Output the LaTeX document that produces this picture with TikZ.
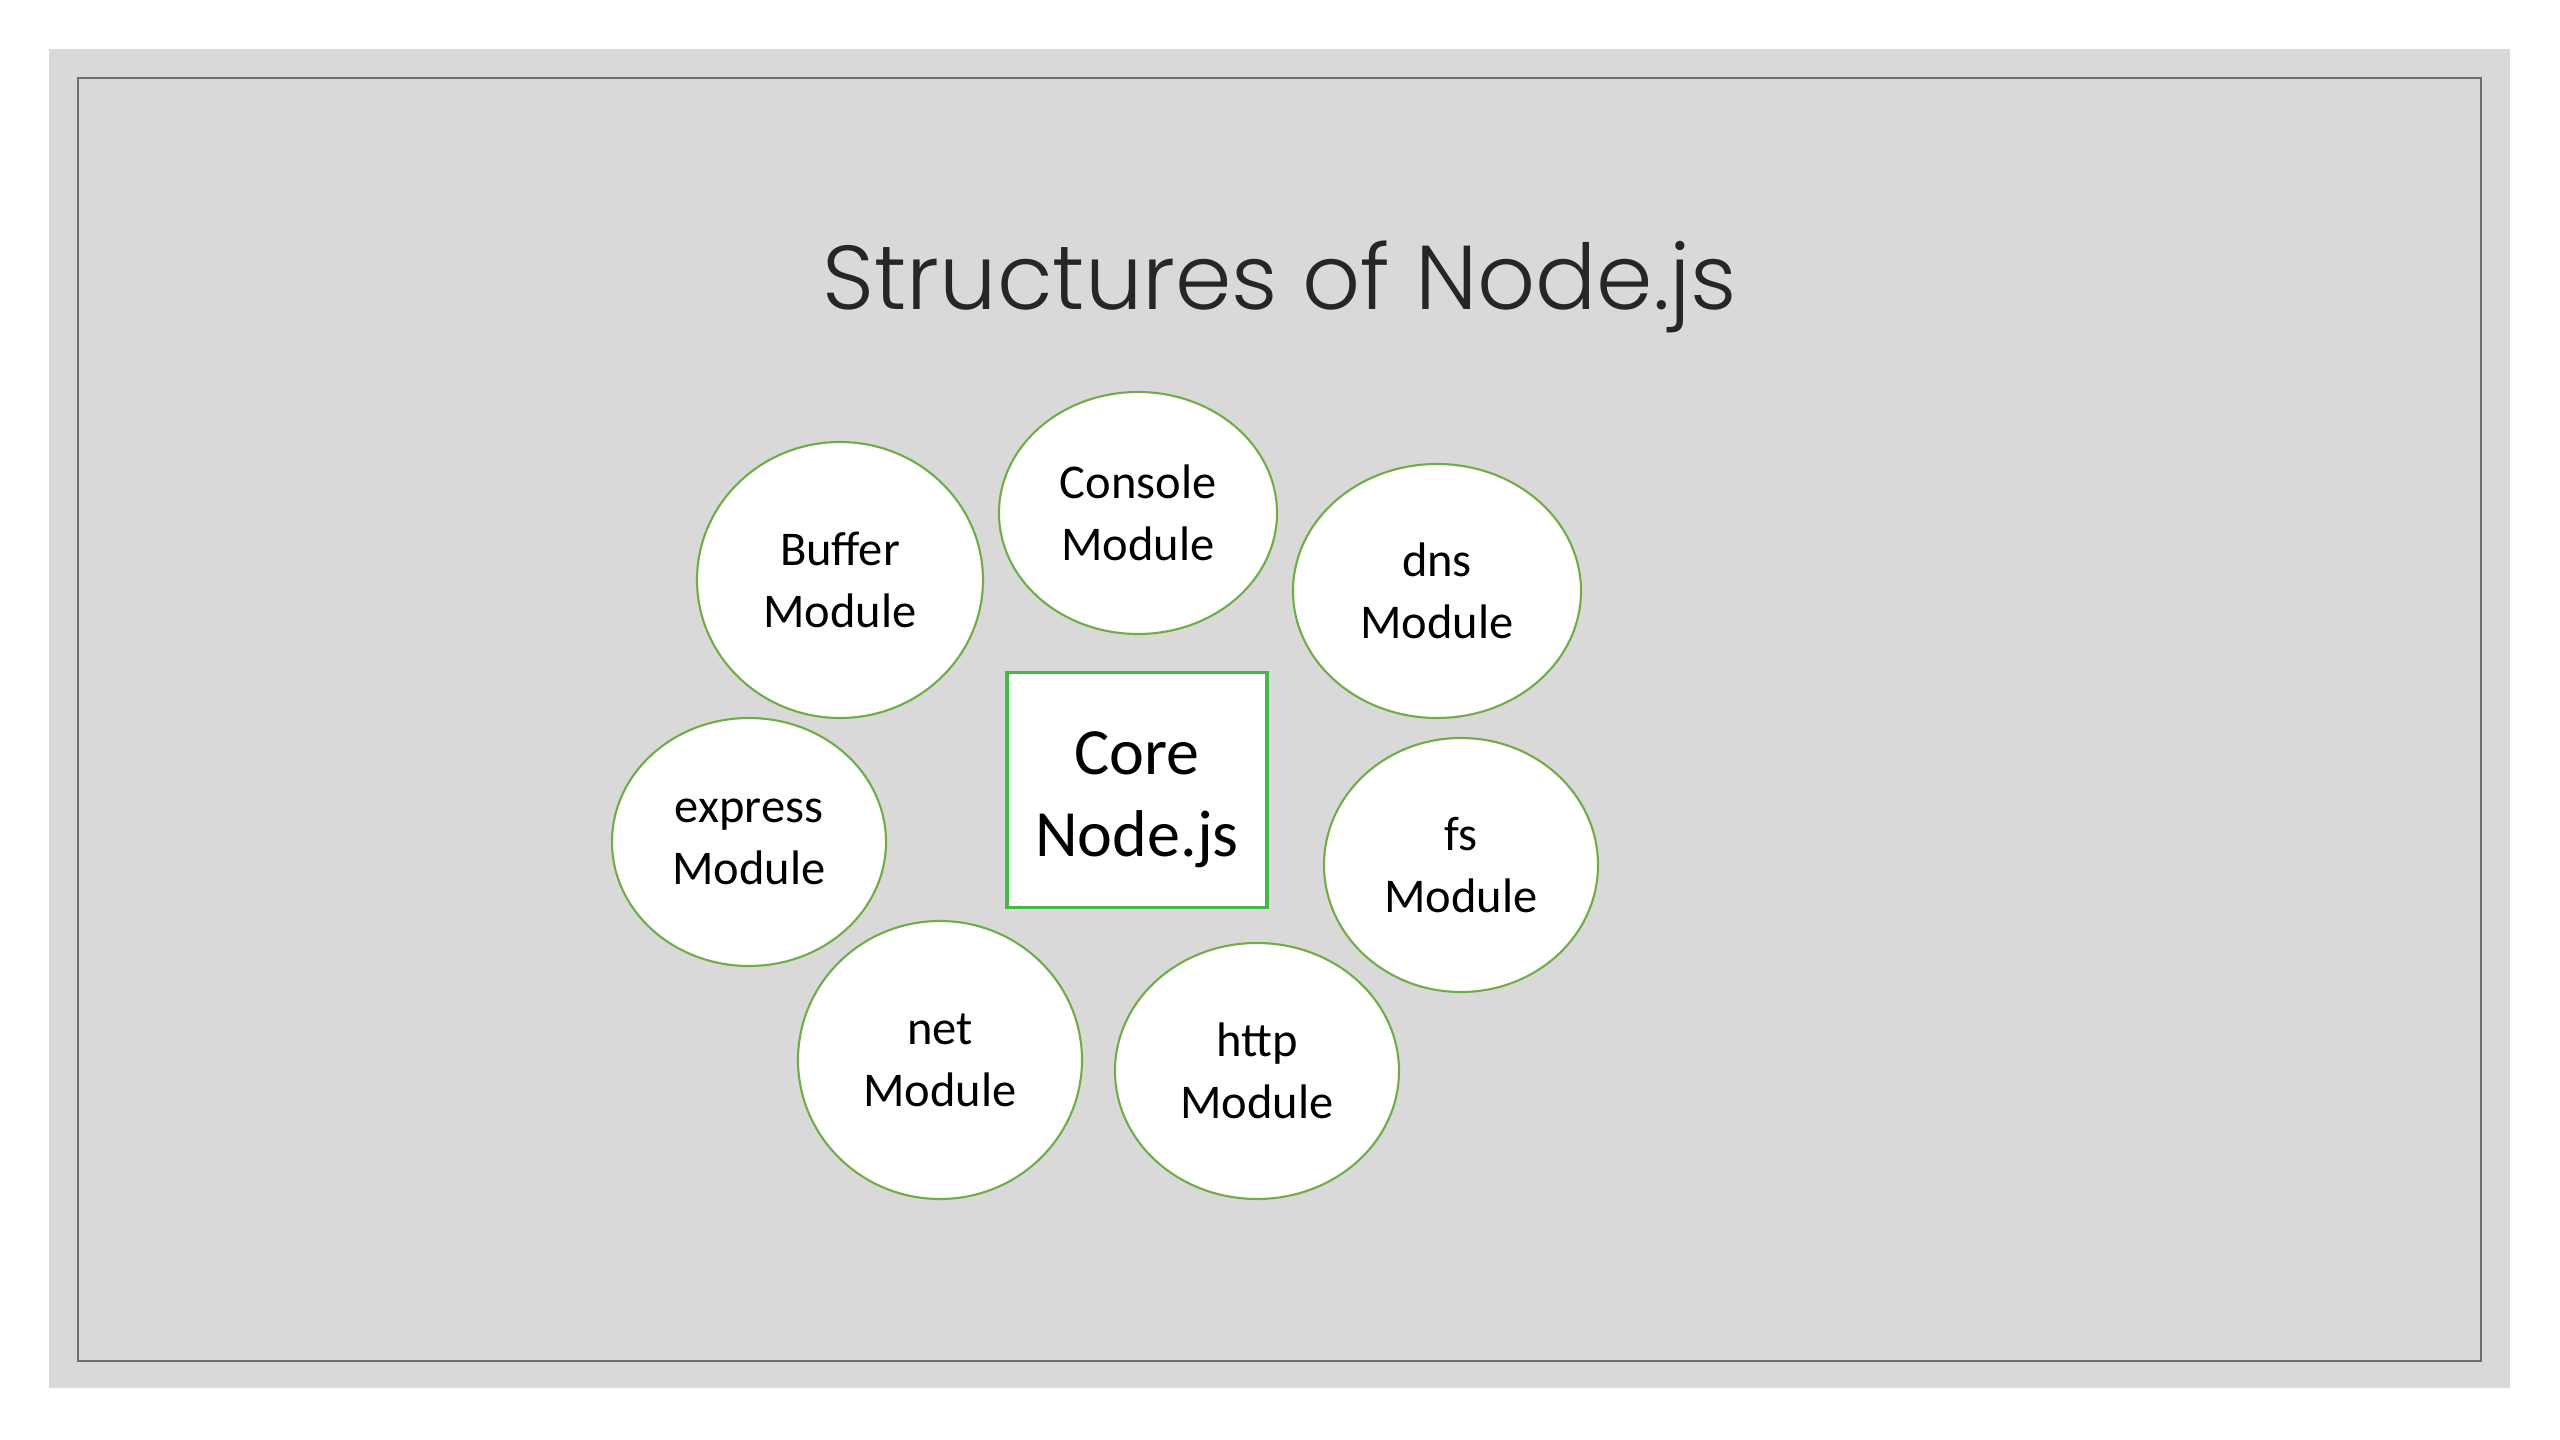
\documentclass[tikz,border=0pt]{standalone}
\usepackage{fontspec}
\setmainfont{Carlito}
\newfontfamily\titlefont{Poppins}[UprightFont=* Light]
\usetikzlibrary{shapes.geometric}
\definecolor{bggrey}{HTML}{D9D9D9}
\definecolor{framegrey}{HTML}{6E6E6E}
\definecolor{modgreen}{HTML}{70AD47}
\definecolor{coregreen}{HTML}{45B845}
\definecolor{titlecol}{HTML}{262626}
\tikzset{
  module/.style={ellipse, draw=modgreen, line width=0.6pt, fill=white, inner sep=0pt,
    align=center, font=\fontsize{13.8}{17.6}\selectfont, text=black},
  corebox/.style={rectangle, draw=coregreen, line width=0.9pt, fill=white, inner sep=0pt,
    minimum width=26mm, minimum height=23.5mm},
  coretext/.style={align=center, inner sep=0pt, font=\fontsize{18.8}{23.3}\selectfont, text=black},
}
\begin{document}
\begin{tikzpicture}[x=0.1mm, y=-0.1mm]
\useasboundingbox (0,0) rectangle (2560,1440);
\fill[white] (0,0) rectangle (2560,1440);
\fill[bggrey] (49,49) rectangle (2510,1388);
\draw[framegrey, line width=0.7pt] (78,78) rectangle (2481,1361);
\node[anchor=base, text=titlecol, font=\titlefont\fontsize{25.8}{30}\selectfont] (title) at (1280,310) {Structures of Node.js};
\node[corebox] (core) at (1137,790) {};
\node[coretext] (coretxt) at ([yshift=-1mm]core.center) {Core\\Node.js};
\node[module, minimum width=28.6mm, minimum height=27.6mm] (buffer) at (840,580) {Buffer\\Module};
\node[module, minimum width=27.8mm, minimum height=24.2mm] (console) at (1138,513) {Console\\Module};
\node[module, minimum width=28.8mm, minimum height=25.4mm] (dns) at (1437,591) {dns\\Module};
\node[module, minimum width=27.4mm, minimum height=24.8mm] (express) at (749,842) {express\\Module};
\node[module, minimum width=27.4mm, minimum height=25.4mm] (fs) at (1461,865) {fs\\Module};
\node[module, minimum width=28.4mm, minimum height=27.8mm] (net) at (940,1060) {net\\Module};
\node[module, minimum width=28.4mm, minimum height=25.6mm] (http) at (1257,1071) {http\\Module};
\end{tikzpicture}
\end{document}
